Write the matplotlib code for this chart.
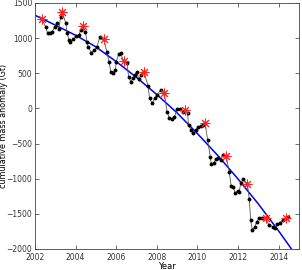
import numpy as np
import matplotlib.pyplot as plt

# Serie mensual (año decimal, anomalía de masa acumulada en Gt)
years = [2002.33, 2002.52, 2002.62, 2002.74, 2002.85, 2002.98, 2003.09, 2003.18,
         2003.26, 2003.34, 2003.52, 2003.58, 2003.67, 2003.72, 2003.88, 2004.04,
         2004.16, 2004.25, 2004.34, 2004.48, 2004.56, 2004.61, 2004.78, 2004.91,
         2005.05, 2005.19, 2005.38, 2005.54, 2005.64, 2005.73, 2005.84, 2005.96,
         2006.00, 2006.12, 2006.21, 2006.36, 2006.52, 2006.61, 2006.71, 2006.82,
         2006.90, 2007.01, 2007.11, 2007.22, 2007.36, 2007.57, 2007.64, 2007.77,
         2007.90, 2008.01, 2008.18, 2008.37, 2008.50, 2008.62, 2008.75, 2008.86,
         2009.00, 2009.16, 2009.27, 2009.40, 2009.51, 2009.56, 2009.68, 2009.79,
         2009.93, 2010.05, 2010.17, 2010.28, 2010.38, 2010.50, 2010.63, 2010.68,
         2010.79, 2010.92, 2011.03, 2011.15, 2011.25, 2011.41, 2011.56, 2011.66,
         2011.77, 2011.85, 2011.98, 2012.06, 2012.13, 2012.26, 2012.46, 2012.55,
         2012.62, 2012.70, 2012.83, 2012.92, 2013.04, 2013.16, 2013.36, 2013.52,
         2013.70, 2013.81, 2013.93, 2014.06, 2014.19, 2014.35, 2014.46]
mass = [1275, 1163, 1069, 1069, 1092, 1165, 1220, 1126,
        1305, 1368, 1210, 1069, 974, 950, 983, 1030,
        1045, 1116, 1173, 1092, 950, 878, 793, 831,
        878, 1012, 990, 807, 665, 523, 509, 547,
        665, 775, 785, 675, 642, 452, 380, 429,
        476, 523, 415, 470, 523, 319, 144, 73,
        150, 191, 262, 215, -46, -140, -154, -126,
        -12, -12, -46, -30, -60, -235, -306, -345,
        -306, -258, -250, -235, -211, -449, -686, -795,
        -780, -719, -709, -733, -662, -672, -899, -1099,
        -1113, -1207, -1174, -1184, -1065, -1008, -1075, -1287,
        -1587, -1729, -1682, -1611, -1563, -1563, -1563, -1658,
        -1682, -1705, -1648, -1634, -1587, -1563, -1540]

# Máximos anuales (marcados con asterisco rojo)
peak_years = [2002.33, 2003.34, 2004.34, 2005.38, 2006.36, 2007.36, 2008.37,
              2009.40, 2010.38, 2011.41, 2012.46, 2013.36, 2014.35]
peak_mass = [1275, 1368, 1173, 990, 675, 523, 215,
             -30, -211, -672, -1075, -1563, -1563]

# Curva de tendencia (ajuste con aceleración)
trend_years = [2002, 2003, 2004, 2005, 2006, 2007, 2008, 2009,
               2010, 2011, 2012, 2013, 2014, 2015]
trend_mass = [1325, 1185, 1040, 875, 665, 440, 197, -65,
              -360, -670, -1005, -1360, -1745, -2150]

xticks = [2002, 2004, 2006, 2008, 2010, 2012, 2014]
yticks = [-2000, -1500, -1000, -500, 0, 500, 1000, 1500]

fig = plt.figure(figsize=(3.02, 2.70), dpi=100, facecolor='white')
ax = fig.add_axes([0.116, 0.078, 0.874, 0.911])

ax.plot(trend_years, trend_mass, color='#0000ff', linewidth=1.1, zorder=2)
ax.plot(years, mass, color='#555555', linewidth=0.6, zorder=3)
ax.plot(years, mass, linestyle='none', marker='o', markersize=1.8,
        color='black', zorder=4)
ax.plot(peak_years, peak_mass, linestyle='none', marker=(8, 2, 0),
        markersize=7, markeredgewidth=0.7, color='#ff2020', zorder=5)

ax.set_xlim(2002, 2015)
ax.set_ylim(-2000, 1500)
ax.set_xticks(xticks)
ax.set_yticks(yticks)
ax.tick_params(direction='in', top=True, right=True, length=3, width=0.5,
               labelsize=5.5, colors='#333333')
ax.tick_params(axis='x', pad=3)
ax.tick_params(axis='y', pad=2)
for spine in ax.spines.values():
    spine.set_linewidth(0.6)
    spine.set_color('#444444')

ax.set_xlabel('Year', fontsize=6, labelpad=0)
ax.set_ylabel('cumulative mass anomaly (Gt)', fontsize=5.8)
ax.yaxis.set_label_coords(-0.104, 0.5)

plt.savefig('out.png', dpi=100)
